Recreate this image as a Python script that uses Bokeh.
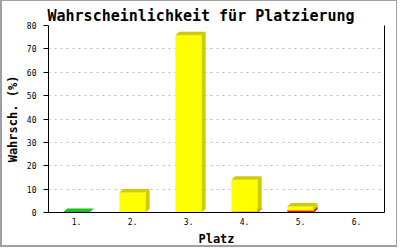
from bokeh.plotting import figure
from bokeh.models import FixedTicker, LinearAxis, Range1d
from bokeh.embed import file_html
from bokeh.resources import INLINE

categories = ["1.", "2.", "3.", "4.", "5.", "6."]
red = [0.0, 0.0, 0.0, 0.3, 0.9, 0.0]
green = [0.2, 0.0, 0.0, 0.0, 0.0, 0.0]
yellow = [0.0, 8.6, 75.8, 13.7, 1.7, 0.0]
y_ticks = [0, 10, 20, 30, 40, 50, 60, 70, 80]

FONT = "DejaVu Sans Mono"
W, H = 397, 247
ML, MR, MT, MB = 41, 15, 24, 34
frame_w = W - ML - MR
frame_h = H - MT - MB

x0, x1 = 0.5, len(categories) + 0.5
y0, y1 = 0, 80
dx = 4.0 * (x1 - x0) / frame_w
dy = 3.5 * (y1 - y0) / frame_h
hw = 0.235

p = figure(width=W, height=H, output_backend="svg", toolbar_location=None,
           x_range=Range1d(x0, x1), y_range=Range1d(y0, y1),
           min_border_left=ML, min_border_right=MR, min_border_top=MT,
           min_border_bottom=MB, title="Wahrscheinlichkeit für Platzierung")
p.styles = {"border": "1px solid #a0a0a0", "border-left-width": "2px",
            "border-bottom-width": "2px"}
p.title.align = "left"
p.title.offset = -1
p.title.text_font = FONT
p.title.text_font_size = "15px"
p.title.text_font_style = "bold"
p.title.text_color = "black"
p.title.standoff = 2
p.outline_line_color = None
p.background_fill_color = "white"
p.border_fill_color = "white"

series = [(red, "#ff0000", "#cc0000"), (green, "#22dd22", "#1fbf1f"),
          (yellow, "#ffff00", "#cccc00")]
base = [0.0] * len(categories)
for vals, front, dark in series:
    fl, fr, fb, ft = [], [], [], []
    sx, sy, tx, ty = [], [], [], []
    for i, v in enumerate(vals):
        if v <= 0:
            continue
        c = i + 1
        b = base[i]
        t = b + v
        base[i] = t
        fl.append(c - hw); fr.append(c + hw); fb.append(b); ft.append(t)
        sx.append([c + hw, c + hw + dx, c + hw + dx, c + hw])
        sy.append([b, b + dy, t + dy, t])
        tx.append([c - hw, c - hw + dx, c + hw + dx, c + hw])
        ty.append([t, t + dy, t + dy, t])
    if fl:
        p.quad(left=fl, right=fr, bottom=fb, top=ft, fill_color=front, line_color=None)
        p.patches(sx, sy, fill_color=dark, line_color=None)
        p.patches(tx, ty, fill_color=dark, line_color=None)

p.xgrid.visible = False
p.ygrid.ticker = FixedTicker(ticks=y_ticks)
p.ygrid.grid_line_color = "#bbbbbb"
p.ygrid.grid_line_dash = "2 4"
p.ygrid.grid_line_width = 1

p.yaxis.ticker = FixedTicker(ticks=y_ticks)
p.yaxis.axis_label = "Wahrsch. (%)"
p.yaxis.major_tick_out = 5
p.yaxis.major_tick_in = 0
p.yaxis.minor_tick_out = 0
p.yaxis.minor_tick_in = 0
p.yaxis.major_label_standoff = 7

p.xaxis.ticker = FixedTicker(ticks=list(range(1, len(categories) + 1)))
p.xaxis.major_label_overrides = {i + 1: c for i, c in enumerate(categories)}
p.xaxis.axis_label = "Platz"
p.xaxis.major_tick_out = 0
p.xaxis.major_tick_in = 0
p.xaxis.minor_tick_out = 0
p.xaxis.minor_tick_in = 0
p.xaxis.major_label_standoff = 5

for ax in (p.xaxis, p.yaxis):
    ax.axis_line_color = "black"
    ax.axis_line_width = 1
    ax.major_tick_line_color = "black"
    ax.major_label_text_font = FONT
    ax.major_label_text_font_size = "8px"
    ax.major_label_text_color = "black"
    ax.axis_label_text_font = FONT
    ax.axis_label_text_font_size = "12px"
    ax.axis_label_text_font_style = "bold"
    ax.axis_label_text_color = "black"
    ax.axis_label_standoff = 4

right = LinearAxis(ticker=FixedTicker(ticks=[]), major_label_text_font_size="0px",
                   major_tick_out=0, major_tick_in=0, minor_tick_out=0, minor_tick_in=0,
                   axis_line_color="black")
p.add_layout(right, "right")

open("out.html", "w").write(file_html(p, INLINE))
